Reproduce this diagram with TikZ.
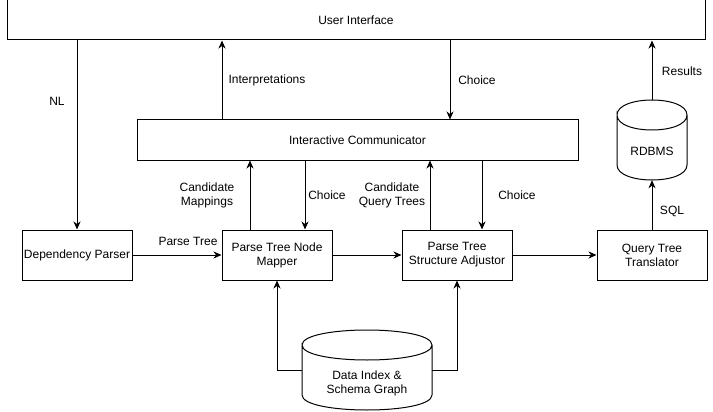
\documentclass[tikz,border=0pt]{standalone}
\usepackage{fontspec}
\setmainfont{Liberation Sans}
\usetikzlibrary{arrows.meta}
\tikzset{
  box/.style={draw, line width=1pt, inner sep=0pt, align=center},
  arr/.style={line width=1pt, -{Stealth[length=8pt,width=7pt,inset=2.5pt]}},
  conn/.style={line width=1pt},
  lbl/.style={inner sep=0pt, align=center},
}
\begin{document}
\begin{tikzpicture}[x=1pt,y=-1pt,font=\fontsize{12}{14}\selectfont]
\useasboundingbox[fill=white] (0,0) rectangle (713,412);
% boxes
\node[box, minimum width=698pt, minimum height=40pt] (ui) at (356,20) {User Interface};
\node[box, minimum width=441pt, minimum height=40pt] (comm) at (357.5,140) {Interactive Communicator};
\node[box, minimum width=110pt, minimum height=50pt] (dp) at (77,255) {Dependency Parser};
\node[box, minimum width=110pt, minimum height=50pt] (map) at (277,255) {Parse Tree Node\\Mapper};
\node[box, minimum width=110pt, minimum height=50pt] (adj) at (457,255) {Parse Tree\\Structure Adjustor};
\node[box, minimum width=110pt, minimum height=50pt] (qtt) at (652,255) {Query Tree\\Translator};
% cylinders
\node[inner sep=0pt, minimum width=70pt, minimum height=80pt] (rdb) at (652,140) {};
\draw[conn] (617,115) .. controls (617,95) and (687,95) .. (687,115)
  .. controls (687,135) and (617,135) .. (617,115) -- (617,165)
  .. controls (617,185) and (687,185) .. (687,165) -- (687,115);
\node[lbl] (rdbtext) at (652,151) {RDBMS};
\node[inner sep=0pt, minimum width=130pt, minimum height=80pt] (db) at (367,370) {};
\draw[conn] (302,345) .. controls (302,325) and (432,325) .. (432,345)
  .. controls (432,365) and (302,365) .. (302,345) -- (302,395)
  .. controls (302,415) and (432,415) .. (432,395) -- (432,345);
\node[lbl] (dbtext) at (367,383) {Data Index \&\\Schema Graph};
% helper coordinates
\coordinate (xint) at (222,0);
\coordinate (xcho) at (450,0);
\coordinate (xcm) at (250,0);
\coordinate (xc1) at (305,0);
\coordinate (xcq) at (430,0);
\coordinate (xc2) at (482,0);
% connectors
\draw[arr] (ui.south -| dp.north) -- (dp.north);
\draw[arr] (comm.north -| xint) -- (ui.south -| xint);
\draw[arr] (ui.south -| xcho) -- (comm.north -| xcho);
\draw[arr] (map.north -| xcm) -- (comm.south -| xcm);
\draw[arr] (comm.south -| xc1) -- (map.north -| xc1);
\draw[arr] (adj.north -| xcq) -- (comm.south -| xcq);
\draw[arr] (comm.south -| xc2) -- (adj.north -| xc2);
\draw[arr] (dp.east) -- (map.west);
\draw[arr] (map.east) -- (adj.west);
\draw[arr] (adj.east) -- (qtt.west);
\draw[arr] (qtt.north) -- (rdb.south);
\draw[arr] (rdb.north) -- (ui.south -| rdb.north);
\draw[arr] (db.west) -| (map.south);
\draw[arr] (db.east) -| (adj.south);
% labels
\node[lbl] (lnl) at (57,101) {NL};
\node[lbl] (lint) at (267,80) {Interpretations};
\node[lbl] (lcho) at (477,80) {Choice};
\node[lbl] (lcm) at (207,195.5) {Candidate\\Mappings};
\node[lbl] (lc1) at (327,195) {Choice};
\node[lbl] (lcq) at (392,195.5) {Candidate\\Query Trees};
\node[lbl] (lc2) at (517,195) {Choice};
\node[lbl] (lpt) at (188,241) {Parse Tree};
\node[lbl] (lsql) at (672,211) {SQL};
\node[lbl] (lres) at (682,71) {Results};
\end{tikzpicture}
\end{document}
